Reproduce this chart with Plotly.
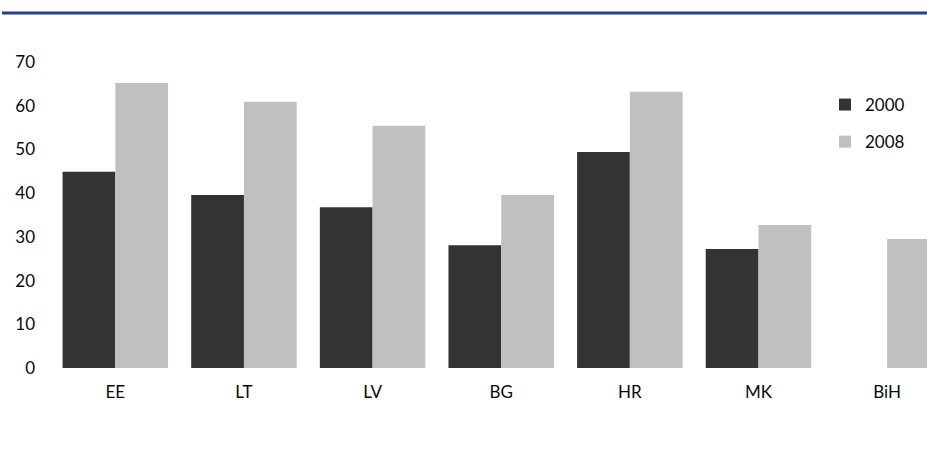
import plotly.graph_objects as go

categories = ["EE", "LT", "LV", "BG", "HR", "MK", "BiH"]
values_2000 = [44.9, 39.6, 36.8, 28.1, 49.4, 27.2, None]
values_2008 = [65.2, 60.9, 55.4, 39.6, 63.2, 32.7, 29.5]
y_ticks = [0, 10, 20, 30, 40, 50, 60, 70]

FONT = "Lato"
W, H = 927, 454

fig = go.Figure()
fig.add_trace(go.Bar(x=categories, y=values_2000, name="2000",
                     marker=dict(color="#333333", line=dict(width=0)),
                     legendgroup="a"))
fig.add_trace(go.Bar(x=categories, y=values_2008, name="2008",
                     marker=dict(color="#C0C0C0", line=dict(width=0)),
                     legendgroup="b"))

fig.add_shape(type="line", xref="paper", yref="paper",
              x0=-49/876, x1=1.0, y0=1 + (62-13)/306, y1=1 + (62-13)/306,
              line=dict(color="#1F4099", width=3))

fig.update_layout(
    width=W, height=H,
    margin=dict(l=51, r=0, t=62, b=86, autoexpand=False),
    plot_bgcolor="white", paper_bgcolor="white",
    barmode="group", bargap=0.18, bargroupgap=0,
    font=dict(family=FONT, size=17, color="#0a0a0a"),
    showlegend=True,
    legend=dict(xref="container", yref="container", x=825/W, y=1-87/H,
                xanchor="left", yanchor="top", traceorder="grouped",
                tracegroupgap=12, font=dict(size=17), bgcolor="rgba(0,0,0,0)"),
    xaxis=dict(range=[-0.5, 6.31], showgrid=False, showline=False, zeroline=False,
               ticks="", ticklabelstandoff=12, fixedrange=True),
    yaxis=dict(range=[0, 70], tickvals=y_ticks, showgrid=False, showline=False,
               zeroline=False, ticks="", ticklabelstandoff=15, fixedrange=True),
)

fig.write_html("out.html", config={"displayModeBar": False},
               post_script="document.body.style.margin='0';document.body.style.overflow='hidden';")
